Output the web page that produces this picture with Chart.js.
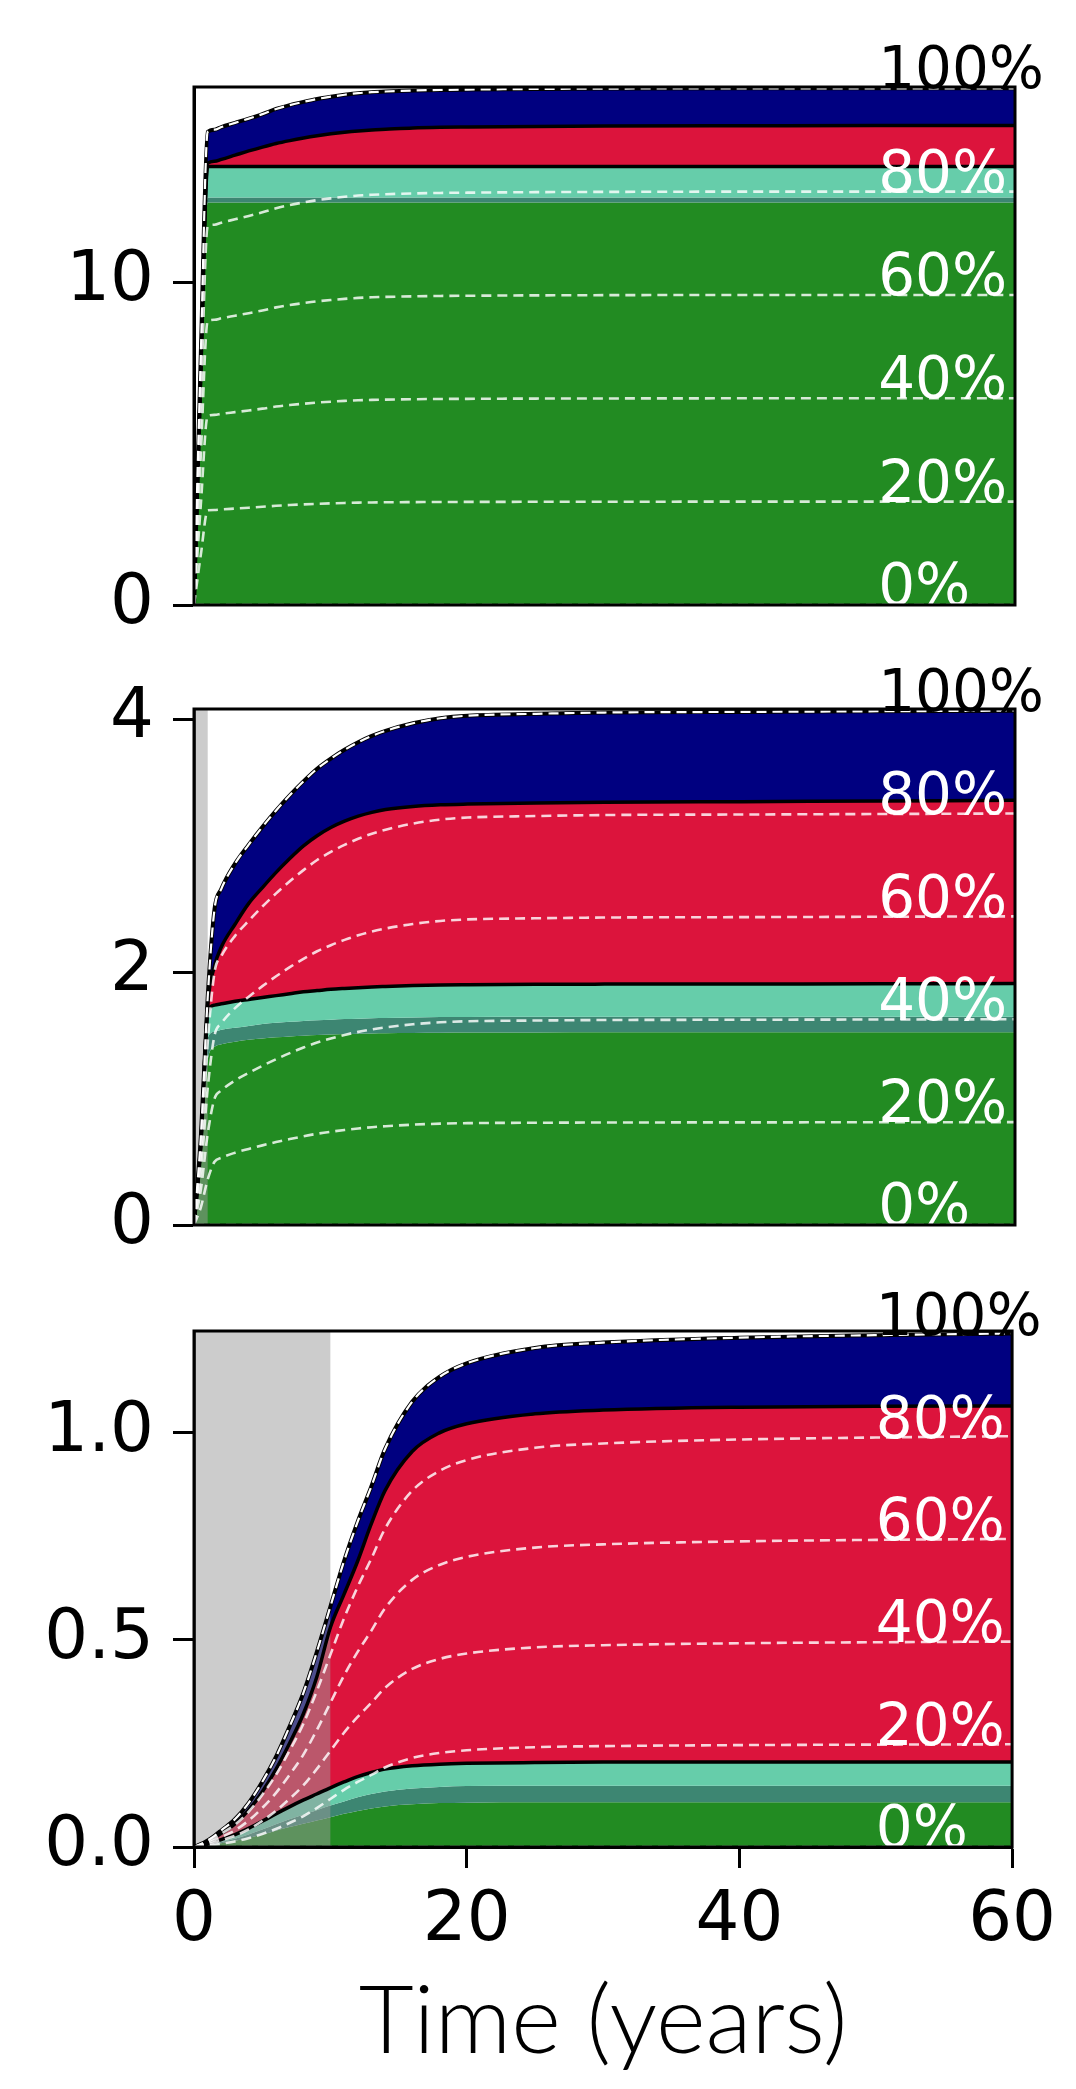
<!DOCTYPE html>
<html>
<head>
<meta charset="utf-8">
<script src="https://cdn.jsdelivr.net/npm/chart.js@4.4.1/dist/chart.umd.min.js"></script>
<style>
  html, body { margin: 0; padding: 0; background: #ffffff; }
  #fig { position: relative; width: 1076px; height: 2089px; overflow: hidden; }
  .panel { position: absolute; left: 0; width: 1076px; }
  canvas { display: block; }
</style>
</head>
<body>
<div id="fig">
  <div class="panel" style="top:0px;height:680px"><canvas id="c0" width="1076" height="680"></canvas></div>
  <div class="panel" style="top:640px;height:640px"><canvas id="c1" width="1076" height="640"></canvas></div>
  <div class="panel" style="top:1260px;height:829px"><canvas id="c2" width="1076" height="829"></canvas></div>
</div>
<script>
// ---- shared time grid (years) ----
const TIME = [0, 0.5, 1, 1.5, 2, 3, 4, 5, 6, 7, 8, 9, 10, 11, 12, 13, 14, 16, 18, 20, 25, 30, 40, 50, 60];
const X_TICKS = [0, 20, 40, 60];
const X_TITLE = 'Time (years)';

// ---- panel 1: stacked band tops ----
const P1_GREEN_TOP = [0, 6.65, 12.46, 12.46, 12.46, 12.46, 12.46, 12.46, 12.46, 12.46, 12.46, 12.46, 12.46, 12.46, 12.46, 12.46, 12.46, 12.46, 12.46, 12.46, 12.46, 12.46, 12.46, 12.46, 12.46];
const P1_STRIP_TOP = [0, 6.75, 12.62, 12.62, 12.62, 12.62, 12.62, 12.62, 12.62, 12.62, 12.62, 12.62, 12.62, 12.62, 12.62, 12.62, 12.62, 12.62, 12.62, 12.62, 12.62, 12.62, 12.62, 12.62, 12.62];
const P1_AQUA_TOP  = [0, 7.25, 13.58, 13.58, 13.58, 13.58, 13.58, 13.58, 13.58, 13.58, 13.58, 13.58, 13.58, 13.58, 13.58, 13.58, 13.58, 13.58, 13.58, 13.58, 13.58, 13.58, 13.58, 13.58, 13.58];
const P1_RED_TOP   = [0, 7.3, 13.68, 13.74, 13.8, 13.93, 14.06, 14.18, 14.29, 14.38, 14.46, 14.53, 14.59, 14.64, 14.68, 14.71, 14.73, 14.77, 14.79, 14.8, 14.82, 14.83, 14.84, 14.85, 14.85];
const P1_TOTAL     = [0, 7.8, 14.65, 14.72, 14.8, 14.93, 15.06, 15.2, 15.36, 15.48, 15.58, 15.67, 15.74, 15.8, 15.85, 15.88, 15.9, 15.93, 15.95, 15.96, 15.98, 15.99, 16.0, 16.0, 16.0];

// ---- panel 2 ----
const P2_GREEN_TOP = [0, 0.5, 1.3, 1.41, 1.43, 1.45, 1.465, 1.475, 1.485, 1.492, 1.498, 1.503, 1.508, 1.511, 1.514, 1.516, 1.518, 1.52, 1.522, 1.523, 1.524, 1.525, 1.525, 1.525, 1.525];
const P2_STRIP_TOP = [0, 0.55, 1.48, 1.53, 1.545, 1.56, 1.575, 1.59, 1.6, 1.608, 1.615, 1.62, 1.625, 1.63, 1.633, 1.636, 1.638, 1.642, 1.645, 1.646, 1.647, 1.648, 1.648, 1.648, 1.648];
const P2_AQUA_TOP  = [0, 0.62, 1.68, 1.74, 1.75, 1.77, 1.785, 1.8, 1.815, 1.83, 1.845, 1.855, 1.865, 1.872, 1.878, 1.884, 1.888, 1.895, 1.9, 1.902, 1.905, 1.906, 1.907, 1.908, 1.91];
const P2_RED_TOP   = [0, 0.66, 1.74, 2.05, 2.2, 2.38, 2.545, 2.67, 2.79, 2.9, 3.0, 3.08, 3.145, 3.195, 3.235, 3.265, 3.287, 3.312, 3.325, 3.331, 3.34, 3.345, 3.35, 3.355, 3.36];
const P2_TOTAL     = [0, 0.7, 1.8, 2.5, 2.66, 2.86, 3.01, 3.15, 3.28, 3.4, 3.51, 3.61, 3.69, 3.76, 3.82, 3.87, 3.91, 3.97, 4.01, 4.03, 4.045, 4.055, 4.06, 4.065, 4.07];

// ---- panel 3 ----
const P3_GREEN_TOP = [0, 0.0015, 0.0035, 0.006, 0.009, 0.015, 0.022, 0.03, 0.039, 0.048, 0.056, 0.064, 0.072, 0.08, 0.087, 0.093, 0.098, 0.103, 0.106, 0.107, 0.108, 0.108, 0.108, 0.108, 0.108];
const P3_STRIP_TOP = [0, 0.002, 0.005, 0.008, 0.012, 0.02, 0.03, 0.042, 0.055, 0.067, 0.078, 0.089, 0.1, 0.11, 0.12, 0.128, 0.134, 0.141, 0.145, 0.147, 0.148, 0.148, 0.148, 0.148, 0.148];
const P3_AQUA_TOP  = [0, 0.003, 0.007, 0.012, 0.018, 0.03, 0.045, 0.062, 0.08, 0.097, 0.113, 0.128, 0.143, 0.157, 0.17, 0.18, 0.188, 0.196, 0.2, 0.202, 0.204, 0.205, 0.205, 0.205, 0.205];
const P3_RED_TOP   = [0, 0.006, 0.013, 0.022, 0.033, 0.056, 0.089, 0.133, 0.187, 0.25, 0.32, 0.41, 0.53, 0.61, 0.69, 0.78, 0.86, 0.955, 1.0, 1.022, 1.046, 1.055, 1.062, 1.064, 1.065];
const P3_TOTAL     = [0, 0.007, 0.016, 0.027, 0.04, 0.067, 0.106, 0.157, 0.217, 0.29, 0.37, 0.47, 0.58, 0.69, 0.785, 0.87, 0.96, 1.075, 1.135, 1.168, 1.205, 1.218, 1.23, 1.236, 1.24];

// ---- axes / annotation values ----
const Y_MAX = [16.04, 4.083, 1.246];
const Y_TICKS = [[0, 10], [0, 2, 4], [0, 0.5, 1.0]];
const Y_TICK_LABELS = [['0', '10'], ['0', '2', '4'], ['0.0', '0.5', '1.0']];
const SHADE_END = [0, 1, 10];           // end (years) of the shaded initial period
const PCT_LEVELS = [0, 20, 40, 60, 80, 100];
const PCT_LABEL_AT = 50;                // year where the percentage labels sit

// ---- styling ----
const BAND_COLORS = ['#228B22', '#3d8672', '#66CDAA', '#DC143C', '#000080'];
const FONT_TICK = { family: 'DejaVu Sans', size: 69, lineHeight: 1 };
const PLOT_LEFT = 194, PLOT_RIGHT_PAD = 61;

const LAYOUT = [
  { padTop: 87, padBottom: 75, showX: false },
  { padTop: 69, padBottom: 55, showX: false },
  { padTop: 71, padBottom: 0, showX: true, xHeight: 242 }
];

function pts(arr) { return TIME.map((t, i) => ({ x: t, y: arr[i] })); }

const shadePlugin = {
  id: 'shade',
  afterDatasetDraw(chart, args, opts) {
    const ds = chart.data.datasets[args.index];
    if (ds.role !== 'topFill' || !opts.end) return;
    const { ctx, chartArea: a, scales: { x } } = chart;
    const x0 = x.getPixelForValue(0), x1 = x.getPixelForValue(opts.end);
    ctx.save();
    ctx.fillStyle = 'rgba(153,153,153,0.5)';
    ctx.fillRect(x0, a.top, x1 - x0, a.bottom - a.top);
    ctx.restore();
  }
};

const pctLabelPlugin = {
  id: 'pctLabels',
  afterDatasetsDraw(chart, args, opts) {
    const { ctx, scales: { x, y } } = chart;
    const total = opts.total[TIME.indexOf(PCT_LABEL_AT)];
    ctx.save();
    ctx.font = '58px "DejaVu Sans"';
    ctx.textAlign = 'left';
    ctx.textBaseline = 'alphabetic';
    PCT_LEVELS.forEach(k => {
      ctx.fillStyle = k === 100 ? '#000000' : '#ffffff';
      ctx.fillText(k + '%', x.getPixelForValue(PCT_LABEL_AT), y.getPixelForValue(total * k / 100));
    });
    ctx.restore();
  }
};

const framePlugin = {
  id: 'frame',
  afterDraw(chart) {
    const { ctx, chartArea: a } = chart;
    ctx.save();
    ctx.strokeStyle = '#000';
    ctx.lineWidth = 3;
    ctx.strokeRect(a.left, a.top, a.right - a.left, a.bottom - a.top);
    ctx.restore();
  }
};

function buildPanel(p, bands) {
  const total = bands[4];
  const datasets = [];
  // filled bands, bottom to top
  bands.forEach((arr, i) => {
    datasets.push({
      data: pts(arr),
      role: i === 4 ? 'topFill' : 'fill',
      backgroundColor: BAND_COLORS[i],
      borderColor: 'transparent',
      borderWidth: 0,
      fill: i === 0 ? 'origin' : '-1',
      pointRadius: 0,
      cubicInterpolationMode: 'monotone',
      order: 20 - i
    });
  });
  // black boundaries: aquamarine/crimson, crimson/navy, outer envelope
  [bands[2], bands[3], bands[4]].forEach((arr, i) => {
    datasets.push({
      data: pts(arr),
      borderColor: '#000000',
      borderWidth: i === 2 ? 4 : 3.5,
      fill: false,
      pointRadius: 0,
      cubicInterpolationMode: 'monotone',
      order: 5
    });
  });
  // percentage-of-total dashed lines
  PCT_LEVELS.forEach(k => {
    datasets.push({
      data: pts(total.map(v => v * k / 100)),
      borderColor: k === 100 ? '#ffffff' : 'rgba(255,255,255,0.82)',
      borderWidth: k === 100 ? 2.2 : 2.6,
      borderDash: [10, 6],
      fill: false,
      pointRadius: 0,
      cubicInterpolationMode: 'monotone',
      order: 1
    });
  });

  const L = LAYOUT[p];
  const xScale = {
    type: 'linear', min: 0, max: 60, display: L.showX,
    afterBuildTicks: s => { s.ticks = X_TICKS.map(v => ({ value: v })); },
    grid: { drawOnChartArea: false, drawTicks: true, tickLength: 21, tickWidth: 3, tickColor: '#000' },
    border: { display: true, color: '#000', width: 3 },
    ticks: { color: '#000', font: FONT_TICK, padding: 20, maxRotation: 0, autoSkip: false,
             callback: v => String(v) },
    title: { display: L.showX, text: X_TITLE, color: '#000',
             font: { family: 'Lato', size: 95, weight: '300', lineHeight: 1.2 }, padding: { top: 0, bottom: 10 } }
  };
  if (L.showX) xScale.afterFit = s => { s.height = L.xHeight; };

  return new Chart(document.getElementById('c' + p), {
    type: 'line',
    data: { datasets },
    options: {
      responsive: false,
      animation: false,
      devicePixelRatio: 1,
      events: [],
      layout: { padding: { top: L.padTop, bottom: L.padBottom, left: 0, right: PLOT_RIGHT_PAD } },
      plugins: {
        legend: { display: false },
        tooltip: { enabled: false },
        shade: { end: SHADE_END[p] },
        pctLabels: { total }
      },
      scales: {
        x: xScale,
        y: {
          min: 0, max: Y_MAX[p],
          afterFit: s => { s.width = PLOT_LEFT; },
          afterBuildTicks: s => { s.ticks = Y_TICKS[p].map(v => ({ value: v })); },
          grid: { drawOnChartArea: false, drawTicks: true, tickLength: 21, tickWidth: 3, tickColor: '#000' },
          border: { display: true, color: '#000', width: 3 },
          ticks: { color: '#000', font: FONT_TICK, padding: 19,
                   callback: (v) => Y_TICK_LABELS[p][Y_TICKS[p].indexOf(v)] }
        }
      }
    },
    plugins: [shadePlugin, pctLabelPlugin, framePlugin]
  });
}

buildPanel(0, [P1_GREEN_TOP, P1_STRIP_TOP, P1_AQUA_TOP, P1_RED_TOP, P1_TOTAL]);
buildPanel(1, [P2_GREEN_TOP, P2_STRIP_TOP, P2_AQUA_TOP, P2_RED_TOP, P2_TOTAL]);
buildPanel(2, [P3_GREEN_TOP, P3_STRIP_TOP, P3_AQUA_TOP, P3_RED_TOP, P3_TOTAL]);
</script>
</body>
</html>
